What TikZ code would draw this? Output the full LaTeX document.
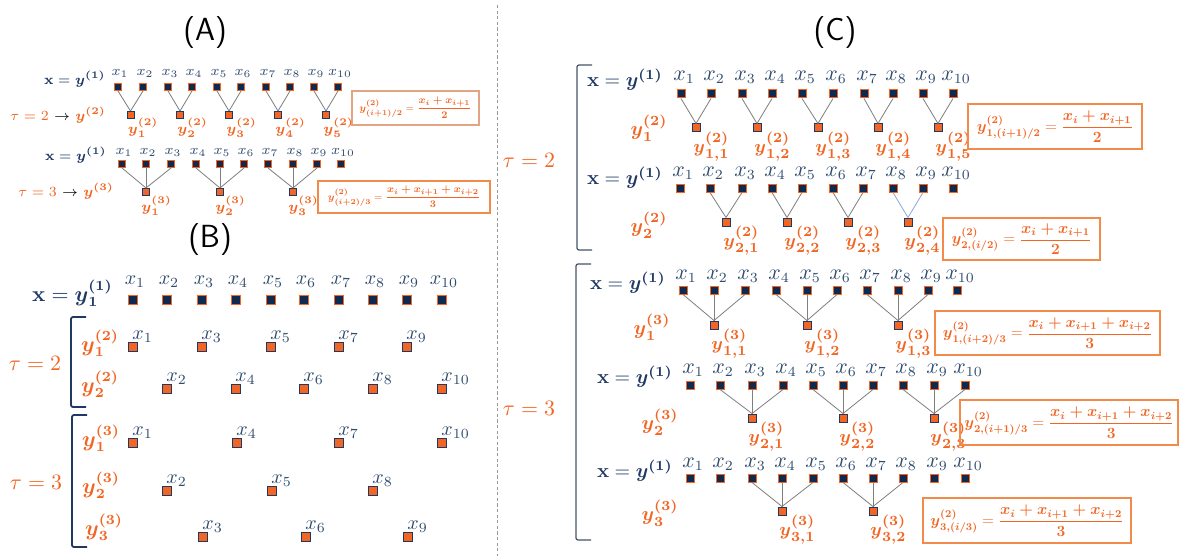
\documentclass[tikz,border=0pt]{standalone}
\usepackage{amsmath}
\usepackage{graphicx}
\definecolor{navy}{HTML}{1F3864}
\definecolor{sqnavy}{HTML}{0E2A4E}
\definecolor{xlab}{HTML}{2F4B6E}
\definecolor{org}{HTML}{F26522}
\definecolor{boxA}{HTML}{E3A483}
\definecolor{boxo}{HTML}{F28A4A}
\definecolor{lnk}{HTML}{7F7F7F}
\definecolor{lnkb}{HTML}{8EA9DB}
\definecolor{brk}{HTML}{44546A}
\newcommand\myY[2]{\boldsymbol{y}^{\boldsymbol{(#1)}}_{\boldsymbol{#2}}}
\newcommand\myYn[1]{\boldsymbol{y}^{\boldsymbol{(#1)}}}
\newcommand\myEq{\mathbf{x}=\boldsymbol{y}^{\boldsymbol{(1)}}}
\newcommand\myFtwo{\dfrac{\boldsymbol{x_i+x_{i+1}}}{\mathbf{2}}}
\newcommand\myFthree{\dfrac{\boldsymbol{x_i+x_{i+1}+x_{i+2}}}{\mathbf{3}}}
\newcommand\myForm[1]{\scalebox{0.63}{$#1$}}
\newcommand\myFormC[1]{\scalebox{0.65}{$#1$}}
\tikzset{
  xsq/.style={draw=org,fill=sqnavy,inner sep=0pt,line width=0.5pt,minimum size=#1},
  xsq/.default=4pt,
  ysq/.style={draw=navy,fill=org,inner sep=0pt,line width=0.5pt,minimum size=#1},
  ysq/.default=4pt,
  lk/.style={draw=lnk,line width=0.4pt},
  lkb/.style={draw=lnkb,line width=0.4pt},
  fA/.style={font=\fontsize{7.5}{9}\selectfont},
  fB/.style={font=\fontsize{10.5}{12}\selectfont},
  fBx/.style={font=\fontsize{10}{12}\selectfont},
  fC/.style={font=\fontsize{10}{12}\selectfont},
  fCy/.style={font=\fontsize{9.5}{11}\selectfont},
  fCx/.style={font=\fontsize{10.5}{12}\selectfont},
  fT/.style={font=\fontsize{11}{13}\selectfont},
  xl/.style={text=xlab,inner sep=0pt},
  yl/.style={text=org,inner sep=0pt},
  eqx/.style={text=navy,inner sep=0pt,anchor=east},
  rowy/.style={text=org,inner sep=0pt},
  taul/.style={text=org,inner sep=0pt},
  fbox/.style={draw=boxo,line width=0.8pt,inner sep=0pt,text=org},
  fboxA/.style={fbox,font=\fontsize{8.5}{10}\selectfont},
  fboxC/.style={fbox,font=\fontsize{11.5}{13}\selectfont},
  ttl/.style={font=\sffamily\fontsize{16}{18}\selectfont,inner sep=0pt},
  brack/.style={draw=navy,line width=0.9pt,rounded corners=1pt},
  brackc/.style={draw=brk,line width=0.6pt,rounded corners=1pt},
}
\begin{document}
\begin{tikzpicture}[x=0.5pt,y=-0.5pt]
\useasboundingbox (0,0) rectangle (1183,556);
\fill[white] (0,0) rectangle (1183,556);
% divider
\draw[lnk!80,dash pattern=on 1.6pt off 1.2pt,line width=0.5pt] (497,5) -- (497,556);
% titles
\node[ttl] (tA) at (205,33) {(A)};
\node[ttl] (tB) at (210,240) {(B)};
\node[ttl] (tC) at (835,33) {(C)};

%================ PANEL A =================
\node[eqx,fA] (a1eq) at (106,79) {$\myEq$};
\foreach \i/\x in {1/118,2/143,3/168,4/192,5/217,6/241,7/266,8/290,9/314,10/338} {
  \node[xsq=3.5pt] (a1x\i) at (\x,87) {};
  \node[xl,fA] (a1l\i) at (\x+2,73) {$x_{\i}$};
}
\node[taul,fA,anchor=west] (a1tau) at (10,115) {$\tau=2$ \textcolor{black}{$\rightarrow$} $\myYn{2}$};
\foreach \j/\x/\a/\b in {1/130.5/1/2,2/180/3/4,3/229/5/6,4/278/7/8,5/326/9/10} {
  \node[ysq=3.5pt] (a1y\j) at (\x,115) {};
  \node[yl,fA,anchor=north west] (a1yl\j) at (\x-3,118) {$\myY{2}{\j}$};
  \draw[lk] (a1x\a.south) -- (a1y\j.north);
  \draw[lk] (a1x\b.south) -- (a1y\j.north);
}
\node[fboxA,draw=boxA,line width=0.6pt,minimum width=63.5pt,minimum height=17pt] (a1box) at (415.5,108) {\myForm{\myY{2}{(i+1)/2}=\myFtwo}};

\node[eqx,fA] (a2eq) at (107,155) {$\myEq$};
\foreach \i/\x in {1/122,2/146,3/171,4/196,5/220,6/244,7/268,8/293,9/317,10/341} {
  \node[xsq=3.5pt] (a2x\i) at (\x,164) {};
  \node[xl,fA] (a2l\i) at (\x+2,152) {$x_{\i}$};
}
\node[taul,fA,anchor=west] (a2tau) at (18,191) {$\tau=3$ \textcolor{black}{$\rightarrow$} $\myYn{3}$};
\foreach \j/\x/\a/\b/\c in {1/146/1/2/3,2/220/4/5/6,3/293/7/8/9} {
  \node[ysq=3.5pt] (a2y\j) at (\x,192) {};
  \node[yl,fA,anchor=north west] (a2yl\j) at (\x-5,196) {$\myY{3}{\j}$};
  \draw[lk] (a2x\a.south) -- (a2y\j.north);
  \draw[lk] (a2x\b.south) -- (a2y\j.north);
  \draw[lk] (a2x\c.south) -- (a2y\j.north);
}
\node[fboxA,minimum width=86pt,minimum height=16pt] (a2box) at (404,197) {\myForm{\myY{2}{(i+2)/3}=\myFthree}};

%================ PANEL B =================
\node[eqx,fB] (beq) at (113,293) {$\mathbf{x}=\myY{1}{1}$};
\foreach \i/\x in {1/133,2/167,3/202,4/236,5/271,6/304,7/339,8/373,9/407,10/442} {
  \node[xsq=4.5pt] (bx\i) at (\x,300) {};
  \node[xl,fBx] (bl\i) at (\x+2,282) {$x_{\i}$};
}
% tau = 2
\draw[brack] (86,317) -- (71,317) -- (71,407) -- (86,407);
\node[taul,fT] (btau2) at (35,363) {$\tau=2$};
\node[rowy,fB] (by21) at (100,343) {$\myY{2}{1}$};
\node[rowy,fB] (by22) at (100,384) {$\myY{2}{2}$};
\foreach \i/\x in {1/133,3/202,5/271,7/339,9/407} {
  \node[ysq=4.5pt] (b21s\i) at (\x,347) {};
  \node[xl,fBx,anchor=south west] (b21l\i) at (\x-1,343) {$x_{\i}$};
}
\foreach \i/\x in {2/167,4/236,6/304,8/373,10/442} {
  \node[ysq=4.5pt] (b22s\i) at (\x,389) {};
  \node[xl,fBx,anchor=south west] (b22l\i) at (\x-1,385) {$x_{\i}$};
}
% tau = 3
\draw[brack] (87,415) -- (72,415) -- (72,547) -- (87,547);
\node[taul,fT] (btau3) at (36,482) {$\tau=3$};
\node[rowy,fB] (by31) at (101,438) {$\myY{3}{1}$};
\node[rowy,fB] (by32) at (101,485) {$\myY{3}{2}$};
\node[rowy,fB] (by33) at (104,527) {$\myY{3}{3}$};
\foreach \i/\x in {1/133,4/237,7/339,10/442} {
  \node[ysq=4.5pt] (b31s\i) at (\x,443) {};
  \node[xl,fBx,anchor=south west] (b31l\i) at (\x-1,439) {$x_{\i}$};
}
\foreach \i/\x in {2/167,5/272,8/373} {
  \node[ysq=4.5pt] (b32s\i) at (\x,491) {};
  \node[xl,fBx,anchor=south west] (b32l\i) at (\x-1,487) {$x_{\i}$};
}
\foreach \i/\x in {3/203,6/306,9/408} {
  \node[ysq=4.5pt] (b33s\i) at (\x,537) {};
  \node[xl,fBx,anchor=south west] (b33l\i) at (\x-1,533) {$x_{\i}$};
}

%================ PANEL C =================
\draw[brackc] (592,65) -- (577,65) -- (577,250) -- (592,250);
\draw[brackc] (591,264) -- (576,264) -- (576,540) -- (591,540);
\node[taul,fT] (ctau2) at (529,160) {$\tau=2$};
\node[taul,fT] (ctau3) at (529,408) {$\tau=3$};

% row C1
\node[eqx,fC] (c1eq) at (663,80) {$\myEq$};
\foreach \i/\x in {1/681,2/711,3/742,4/772,5/802,6/833,7/864,8/893,9/923,10/953} {
  \node[xsq] (c1x\i) at (\x,94) {};
  \node[xl,fCx] (c1l\i) at (\x+3,77) {$x_{\i}$};
}
\node[rowy,fC] (c1r) at (649,128) {$\myY{2}{1}$};
\foreach \j/\x/\a/\b in {1/696/1/2,2/757/3/4,3/818/5/6,4/878/7/8,5/938/9/10} {
  \node[ysq] (c1y\j) at (\x,128) {};
  \node[yl,fCy,anchor=north west] (c1yl\j) at (\x-3,132) {$\myY{2}{1,\j}$};
  \draw[lk] (c1x\a.south) -- (c1y\j.north);
  \draw[lk] (c1x\b.south) -- (c1y\j.north);
}
\node[fboxC,minimum width=87pt,minimum height=22.5pt] (c1box) at (1055,126.5) {\myFormC{\myY{2}{1,(i+1)/2}=\myFtwo}};

% row C2
\node[eqx,fC] (c2eq) at (663,178) {$\myEq$};
\foreach \i/\x in {1/680,2/710,3/742,4/772,5/802,6/833,7/863,8/893,9/923,10/953} {
  \node[xsq] (c2x\i) at (\x,188) {};
  \node[xl,fCx] (c2l\i) at (\x+3,173) {$x_{\i}$};
}
\node[rowy,fC] (c2r) at (649,225) {$\myY{2}{2}$};
\foreach \j/\x/\a/\b in {1/726/2/3,2/787/4/5,3/848/6/7} {
  \node[ysq] (c2y\j) at (\x,222) {};
  \node[yl,fCy,anchor=north west] (c2yl\j) at (\x-3,226) {$\myY{2}{2,\j}$};
  \draw[lk] (c2x\a.south) -- (c2y\j.north);
  \draw[lk] (c2x\b.south) -- (c2y\j.north);
}
\node[ysq] (c2y4) at (908,222) {};
\node[yl,fCy,anchor=north west] (c2yl4) at (904,226) {$\myY{2}{2,4}$};
\draw[lkb] (c2x8.south) -- (c2y4.north);
\draw[lkb] (c2x9.south) -- (c2y4.north);
\node[fboxC,minimum width=78.5pt,minimum height=21pt] (c2box) at (1021.5,239) {\myFormC{\myY{2}{2,(i/2)}=\myFtwo}};

% row C3
\node[eqx,fC] (c3eq) at (666,283) {$\myEq$};
\foreach \i/\x in {1/683,2/714,3/745,4/776,5/807,6/837,7/867,8/898,9/928,10/957} {
  \node[xsq] (c3x\i) at (\x,290) {};
  \node[xl,fCx] (c3l\i) at (\x+3,276) {$x_{\i}$};
}
\node[rowy,fC] (c3r) at (652,327) {$\myY{3}{1}$};
\foreach \j/\x/\a/\b/\c in {1/714/1/2/3,2/807/4/5/6,3/898/7/8/9} {
  \node[ysq] (c3y\j) at (\x,325) {};
  \node[yl,fCy,anchor=north west] (c3yl\j) at (\x-3,329) {$\myY{3}{1,\j}$};
  \draw[lk] (c3x\a.south) -- (c3y\j.north);
  \draw[lk] (c3x\b.south) -- (c3y\j.north);
  \draw[lk] (c3x\c.south) -- (c3y\j.north);
}
\node[fboxC,minimum width=112.5pt,minimum height=22pt] (c3box) at (1047.5,333) {\myFormC{\myY{2}{1,(i+2)/3}=\myFthree}};

% row C4
\node[eqx,fC] (c4eq) at (673,377) {$\myEq$};
\foreach \i/\x in {1/690,2/720,3/752,4/783,5/813,6/843,7/873,8/903,9/934,10/965} {
  \node[xsq] (c4x\i) at (\x,385) {};
  \node[xl,fCx] (c4l\i) at (\x+3,370) {$x_{\i}$};
}
\node[rowy,fC] (c4r) at (660,422) {$\myY{3}{2}$};
\foreach \j/\x/\a/\b/\c in {1/752/2/3/4,2/843/5/6/7,3/934/8/9/10} {
  \node[ysq] (c4y\j) at (\x,418) {};
  \node[yl,fCy,anchor=north west] (c4yl\j) at (\x-4,422) {$\myY{3}{2,\j}$};
  \draw[lk] (c4x\a.south) -- (c4y\j.north);
  \draw[lk] (c4x\b.south) -- (c4y\j.north);
  \draw[lk] (c4x\c.south) -- (c4y\j.north);
}
\node[fboxC,minimum width=109pt,minimum height=22.5pt] (c4box) at (1069,422.5) {\myFormC{\myY{2}{2,(i+1)/3}=\myFthree}};

% row C5
\node[eqx,fC] (c5eq) at (673,471) {$\myEq$};
\foreach \i/\x in {1/690,2/720,3/752,4/782,5/813,6/843,7/873,8/903,9/934,10/965} {
  \node[xsq] (c5x\i) at (\x,478) {};
  \node[xl,fCx] (c5l\i) at (\x+3,464) {$x_{\i}$};
}
\node[rowy,fC] (c5r) at (660,513) {$\myY{3}{3}$};
\foreach \j/\x/\a/\b/\c in {1/782/3/4/5,2/873/6/7/8} {
  \node[ysq] (c5y\j) at (\x,511) {};
  \node[yl,fCy,anchor=north west] (c5yl\j) at (\x-3,515) {$\myY{3}{3,\j}$};
  \draw[lk] (c5x\a.south) -- (c5y\j.north);
  \draw[lk] (c5x\b.south) -- (c5y\j.north);
  \draw[lk] (c5x\c.south) -- (c5y\j.north);
}
\node[fboxC,minimum width=104pt,minimum height=22.5pt] (c5box) at (1027,520.5) {\myFormC{\myY{2}{3,(i/3)}=\myFthree}};
\end{tikzpicture}
\end{document}
